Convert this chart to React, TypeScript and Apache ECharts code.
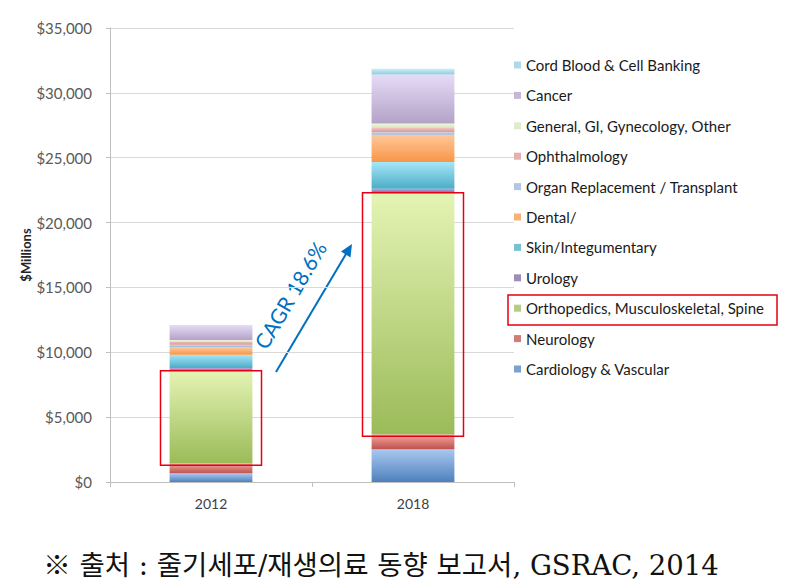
import React, { useEffect, useRef } from "react";
import * as echarts from "echarts";

const years = ["2012", "2018"];
const seriesNames = [
  "Cardiology & Vascular",
  "Neurology",
  "Orthopedics, Musculoskeletal, Spine",
  "Urology",
  "Skin/Integumentary",
  "Dental/",
  "Organ Replacement / Transplant",
  "Ophthalmology",
  "General, GI, Gynecology, Other",
  "Cancer",
  "Cord Blood & Cell Banking",
];
const cardiology = [670, 2530];
const neurology = [775, 1160];
const orthopedics = [7135, 18600];
const urology = [200, 310];
const skin = [1030, 2060];
const dental = [570, 2110];
const organ = [200, 200];
const ophthalmology = [260, 330];
const general = [100, 330];
const cancer = [1160, 3790];
const cordBlood = [0, 440];
const seriesValues = [cardiology, neurology, orthopedics, urology, skin, dental, organ, ophthalmology, general, cancer, cordBlood];

const yTicks = [0, 5000, 10000, 15000, 20000, 25000, 30000, 35000];
const cagrText = "CAGR 18.6%";
const sourceText = "※ 출처 : 줄기세포/재생의료 동향 보고서, GSRAC, 2014";

const baseColors = ["#4F81BD", "#C0504D", "#9BBB59", "#8064A2", "#4BACC6", "#F79646", "#95B3D7", "#D99694", "#D7E4BD", "#B3A2C7", "#93CDDD"];
const lightColors = ["#A9C8F0", "#F2AAA2", "#E4F4B4", "#BCA9DC", "#A6E6F8", "#FFC79A", "#C9DBF3", "#F0C6C2", "#F1F7DC", "#E6DCF7", "#C9EEF8"];

const FONT = "Lato, 'Open Sans', sans-serif";

export default function App() {
  const ref = useRef<HTMLDivElement>(null);
  useEffect(() => {
    if (!ref.current) return;
    const chart = echarts.init(ref.current, undefined, { renderer: "svg" });

    const barSeries = seriesNames.map((name, i) => ({
      name,
      type: "bar",
      stack: "total",
      barWidth: "41%",
      data: seriesValues[i],
      itemStyle: {
        color: new echarts.graphic.LinearGradient(0, 0, 0, 1, [
          { offset: 0, color: lightColors[i] },
          { offset: 1, color: baseColors[i] },
        ]),
      },
      emphasis: { disabled: true },
    }));

    const boxData = years.map((_, j) => {
      const lo = cardiology[j] + neurology[j];
      return [j, lo, lo + orthopedics[j]];
    });

    const legendOrder = [...seriesNames].reverse();

    chart.setOption({
      animation: false,
      textStyle: { fontFamily: FONT },
      grid: { left: 110, right: 271, top: 28, bottom: 99, containLabel: false },
      xAxis: {
        type: "category",
        data: years,
        axisLine: { lineStyle: { color: "#BFBFBF" } },
        axisTick: { show: true, length: 5, lineStyle: { color: "#BFBFBF" } },
        axisLabel: { color: "#404040", fontSize: 14, margin: 14, fontFamily: FONT },
      },
      yAxis: {
        type: "value",
        min: 0,
        max: 35000,
        interval: 5000,
        name: "$Millions",
        nameLocation: "middle",
        nameGap: 78,
        nameMoveOverlap: false,
        nameRotate: 90,
        nameTextStyle: { fontWeight: "bold", fontSize: 13, color: "#262626", fontFamily: FONT },
        axisLine: { show: true, lineStyle: { color: "#BFBFBF" } },
        axisTick: { show: true, length: 4, lineStyle: { color: "#BFBFBF" } },
        splitLine: { lineStyle: { color: "#D9D9D9" } },
        axisLabel: {
          color: "#595959",
          fontSize: 15,
          margin: 18,
          fontFamily: FONT,
          formatter: (v: number) => (yTicks.includes(v) ? "$" + v.toLocaleString("en-US") : ""),
        },
      },
      legend: {
        orient: "vertical",
        left: 509,
        top: 51,
        itemWidth: 7,
        itemHeight: 7,
        itemGap: 12.4,
        icon: "rect",
        selectedMode: false,
        textStyle: { fontSize: 15, color: "#1a1a1a", lineHeight: 18, fontFamily: FONT },
        data: legendOrder.map((n) => ({ name: n, itemStyle: { color: baseColors[seriesNames.indexOf(n)], opacity: 0.75 } })),
      },
      series: [
        ...barSeries,
        {
          type: "custom",
          name: "box",
          z: 10,
          data: boxData,
          silent: true,
          renderItem: (params: any, api: any) => {
            const x = api.value(0);
            const lo = api.value(1);
            const hi = api.value(2);
            const pTop = api.coord([x, hi]);
            const pBot = api.coord([x, lo]);
            const w = api.size([1, 0])[0] * 0.5;
            return {
              type: "rect",
              shape: { x: pTop[0] - w / 2, y: pTop[1], width: w, height: pBot[1] - pTop[1] + 2 },
              style: { fill: "none", stroke: "#E60012", lineWidth: 1.5 },
            };
          },
        },
      ],
      graphic: [
        {
          type: "line",
          shape: { x1: 276, y1: 372, x2: 346, y2: 254 },
          style: { stroke: "#0070C0", lineWidth: 2 },
        },
        {
          type: "polygon",
          shape: { points: [[352, 244], [350.5, 257.5], [341, 251.5]] },
          style: { fill: "#0070C0" },
        },
        {
          type: "text",
          x: 290,
          y: 295,
          rotation: (59.5 * Math.PI) / 180,
          style: {
            text: cagrText,
            fill: "#0070C0",
            fontSize: 21,
            fontFamily: FONT,
            align: "center",
            verticalAlign: "middle",
          },
        },
        {
          type: "rect",
          shape: { x: 508, y: 295, width: 269, height: 30 },
          style: { fill: "none", stroke: "#E60012", lineWidth: 1.5 },
        },
        {
          type: "text",
          x: 381,
          y: 565,
          style: {
            text: sourceText,
            fill: "#111111",
            fontSize: 27.5,
            fontFamily: "'DejaVu Serif', 'Liberation Serif', 'Noto Sans CJK KR', serif",
            align: "center",
            verticalAlign: "middle",
          },
        },
      ],
    });
    return () => chart.dispose();
  }, []);

  return <div ref={ref} style={{ position: "absolute", left: 0, top: 0, width: 785, height: 581 }} />;
}
